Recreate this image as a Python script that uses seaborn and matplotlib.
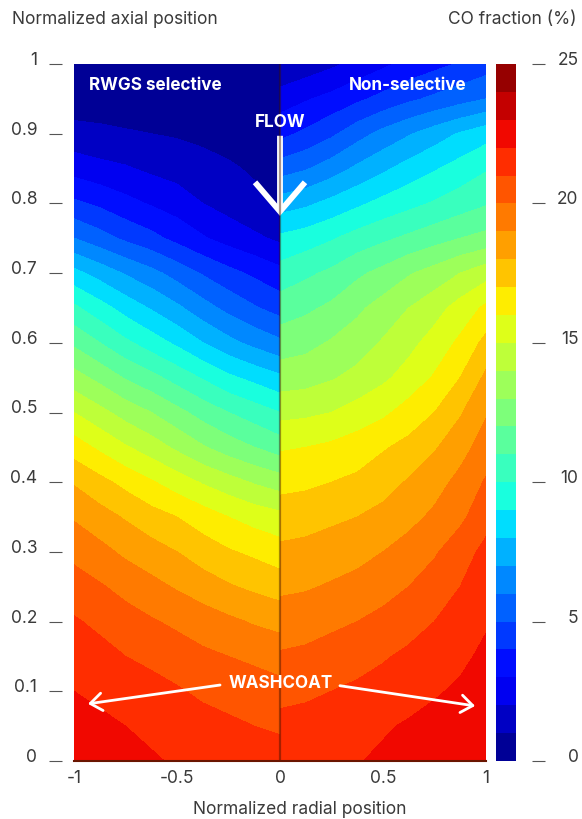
import matplotlib
matplotlib.use("Agg")
import matplotlib.pyplot as plt
import numpy as np
import seaborn as sns
from matplotlib.patches import FancyArrowPatch

sns.set_theme(style="white")
plt.rcParams["font.family"] = ["Inter", "DejaVu Sans"]
plt.rcParams["axes.unicode_minus"] = False

TEXT = "#3a3a3a"

# rows read from the top of the channel (y=1) down to the outlet (y=0)
y_rows = [1.0, 0.95, 0.9, 0.85, 0.8, 0.75, 0.7, 0.65, 0.6, 0.55, 0.5,
          0.45, 0.4, 0.35, 0.3, 0.25, 0.2, 0.15, 0.1, 0.05, 0.0]
x_left = [-1.0, -0.875, -0.75, -0.625, -0.5, -0.375, -0.25, -0.125, 0.0]
x_right = [0.0, 0.125, 0.25, 0.375, 0.5, 0.625, 0.75, 0.875, 1.0]

# CO fraction (%) - RWGS selective half
co_left = [
    [0.3, 0.3, 0.3, 0.3, 0.25, 0.23, 0.22, 0.21, 0.2],
    [0.5, 0.5, 0.4, 0.4, 0.4, 0.36, 0.34, 0.32, 0.3],
    [1.3, 1.2, 1.1, 1.0, 0.9, 0.8, 0.7, 0.6, 0.5],
    [2.6, 2.3, 2.1, 1.8, 1.6, 1.3, 1.1, 0.9, 0.7],
    [4.2, 3.8, 3.3, 2.9, 2.5, 2.0, 1.6, 1.2, 0.95],
    [6.0, 5.4, 4.8, 4.3, 3.7, 3.1, 2.6, 2.2, 1.8],
    [8.3, 7.6, 6.9, 6.3, 5.6, 4.9, 4.3, 3.8, 3.3],
    [10.2, 9.4, 8.6, 7.9, 7.2, 6.4, 5.7, 5.1, 4.6],
    [11.8, 11.0, 10.2, 9.5, 8.8, 8.0, 7.3, 6.7, 6.2],
    [13.4, 12.7, 11.9, 11.3, 10.6, 9.9, 9.2, 8.7, 8.2],
    [15.0, 14.3, 13.6, 13.0, 12.3, 11.6, 11.0, 10.5, 10.0],
    [16.5, 15.8, 15.1, 14.5, 13.8, 13.1, 12.5, 12.0, 11.5],
    [17.9, 17.3, 16.7, 16.1, 15.5, 14.9, 14.4, 13.9, 13.5],
    [18.9, 18.4, 17.9, 17.4, 17.0, 16.5, 16.0, 15.6, 15.3],
    [19.7, 19.3, 18.8, 18.4, 18.0, 17.5, 17.1, 16.8, 16.5],
    [20.5, 20.1, 19.7, 19.3, 18.9, 18.5, 18.1, 17.8, 17.5],
    [21.1, 20.8, 20.4, 20.1, 19.8, 19.5, 19.2, 18.9, 18.7],
    [21.6, 21.3, 21.0, 20.8, 20.5, 20.2, 20.0, 19.8, 19.6],
    [22.0, 21.8, 21.5, 21.3, 21.1, 20.8, 20.6, 20.5, 20.3],
    [22.4, 22.2, 22.0, 21.8, 21.6, 21.4, 21.2, 21.0, 20.9],
    [22.7, 22.5, 22.3, 22.1, 21.9, 21.8, 21.6, 21.4, 21.3],
]

# CO fraction (%) - non-selective half
co_right = [
    [1.0, 1.4, 1.8, 2.3, 2.8, 3.3, 3.7, 4.1, 4.5],
    [2.5, 2.9, 3.3, 3.8, 4.3, 4.8, 5.2, 5.6, 6.0],
    [3.7, 4.2, 4.8, 5.6, 6.3, 6.9, 7.5, 8.1, 8.6],
    [5.5, 5.9, 6.5, 7.2, 7.8, 8.4, 8.9, 9.4, 9.9],
    [7.5, 7.8, 8.3, 8.8, 9.3, 9.7, 10.1, 10.5, 10.9],
    [9.2, 9.5, 9.9, 10.4, 10.8, 11.2, 11.6, 12.0, 12.3],
    [10.4, 10.8, 11.2, 11.8, 12.3, 12.9, 13.4, 14.0, 14.6],
    [11.5, 11.8, 12.2, 12.8, 13.4, 14.0, 14.6, 15.4, 16.2],
    [12.5, 12.7, 13.1, 13.5, 14.1, 14.7, 15.4, 16.2, 17.3],
    [13.5, 13.6, 13.9, 14.3, 14.8, 15.4, 16.1, 17.0, 18.2],
    [14.7, 14.8, 15.0, 15.4, 15.8, 16.4, 17.0, 17.9, 18.9],
    [15.9, 16.0, 16.2, 16.5, 16.9, 17.3, 17.9, 18.6, 19.5],
    [16.7, 16.8, 17.0, 17.2, 17.6, 18.1, 18.6, 19.3, 20.1],
    [17.5, 17.6, 17.8, 18.0, 18.3, 18.7, 19.2, 19.8, 20.6],
    [18.2, 18.3, 18.5, 18.7, 19.0, 19.4, 19.9, 20.5, 21.3],
    [18.8, 18.9, 19.1, 19.3, 19.6, 20.0, 20.4, 21.0, 21.6],
    [19.5, 19.6, 19.8, 20.0, 20.3, 20.6, 21.0, 21.4, 21.9],
    [20.1, 20.2, 20.4, 20.6, 20.9, 21.2, 21.4, 21.8, 22.2],
    [20.7, 20.8, 21.0, 21.2, 21.4, 21.65, 21.9, 22.15, 22.45],
    [21.3, 21.4, 21.6, 21.75, 21.9, 22.1, 22.3, 22.5, 22.7],
    [21.5, 21.65, 21.8, 21.95, 22.15, 22.35, 22.5, 22.7, 22.9],
]

levels = np.arange(0, 26, 1)
y_ticks = [0, 0.1, 0.2, 0.3, 0.4, 0.5, 0.6, 0.7, 0.8, 0.9, 1]
y_ticklabels = ["0", "0.1", "0.2", "0.3", "0.4", "0.5", "0.6", "0.7", "0.8", "0.9", "1"]
x_ticks = [-1, -0.5, 0, 0.5, 1]
x_ticklabels = ["-1", "-0.5", "0", "0.5", "1"]
cbar_ticks = [0, 5, 10, 15, 20, 25]

fig = plt.figure(figsize=(5.82, 8.2), dpi=100)
ax = fig.add_axes([74 / 582, 58 / 820, 412 / 582, 697 / 820])
cax = fig.add_axes([496 / 582, 58 / 820, 20 / 582, 697 / 820])

XL, YL = np.meshgrid(x_left, y_rows)
XR, YR = np.meshgrid(x_right, y_rows)
cs = ax.contourf(XL, YL, np.array(co_left), levels=levels, cmap="jet")
ax.contourf(XR, YR, np.array(co_right), levels=levels, cmap="jet")
ax.axvline(0, color="#3a1000", alpha=0.45, lw=1.6)

ax.set_xlim(-1, 1)
ax.set_ylim(0, 1)
for side in ["top", "right", "left"]:
    ax.spines[side].set_visible(False)
ax.spines["bottom"].set_color("#6a1500")
ax.spines["bottom"].set_linewidth(1.5)

# y ticks drawn as short dashes detached from the plot edge
ax.spines["left"].set_visible(True)
ax.spines["left"].set_color("none")
ax.spines["left"].set_position(("outward", 9))
ax.set_yticks(y_ticks)
ax.set_yticklabels(y_ticklabels)
ax.tick_params(axis="y", left=True, length=9.5, width=0.8, color="#555555",
               pad=8, labelsize=12.5, labelcolor=TEXT)
for lbl in ax.get_yticklabels():
    lbl.set_verticalalignment("baseline")

ax.set_xticks(x_ticks)
ax.set_xticklabels(x_ticklabels)
ax.tick_params(axis="x", bottom=False, length=0, pad=6, labelsize=12.5, labelcolor=TEXT)

cb = fig.colorbar(cs, cax=cax, ticks=cbar_ticks)
cb.outline.set_visible(False)
cax.spines["right"].set_visible(True)
cax.spines["right"].set_color("none")
cax.spines["right"].set_position(("outward", 11.5))
cax.yaxis.set_ticks_position("right")
cax.set_yticklabels([str(t) for t in cbar_ticks])
cax.tick_params(axis="y", right=True, length=9.5, width=0.8, color="#555555",
                pad=24, labelsize=12.5, labelcolor=TEXT)
for lbl in cax.get_yticklabels():
    lbl.set_verticalalignment("baseline")
    lbl.set_horizontalalignment("right")

fig.text(12 / 582, 1 - 20 / 820, "Normalized axial position", ha="left", va="center",
         fontsize=12.5, color=TEXT)
fig.text(577 / 582, 1 - 20 / 820, "CO fraction (%)", ha="right", va="center",
         fontsize=12.5, color=TEXT)
fig.text(300 / 582, 1 - 810 / 820, "Normalized radial position", ha="center", va="center",
         fontsize=12.5, color=TEXT)

bold = dict(color="white", fontweight="bold", fontsize=12.3)
ax.text(-0.927, 0.971, "RWGS selective", ha="left", va="center", **bold)
ax.text(0.903, 0.971, "Non-selective", ha="right", va="center", **bold)
ax.text(0.0, 0.918, "FLOW", ha="center", va="center", **bold)
ax.text(0.005, 0.113, "WASHCOAT", ha="center", va="center", **bold)

flow = FancyArrowPatch((0.0, 0.897), (0.0, 0.782), arrowstyle="->,head_length=1.05,head_width=0.9",
                       mutation_scale=20, color="white", lw=4.2, capstyle="butt",
                       joinstyle="miter", shrinkA=0, shrinkB=0)
ax.add_patch(flow)
for start, tip in [((-0.291, 0.109), (-0.932, 0.082)), ((0.291, 0.108), (0.947, 0.079))]:
    arr = FancyArrowPatch(start, tip, arrowstyle="->,head_length=0.6,head_width=0.45",
                          mutation_scale=14, color="white", lw=2.0, shrinkA=0, shrinkB=0)
    ax.add_patch(arr)

fig.savefig("out.png", dpi=100)
